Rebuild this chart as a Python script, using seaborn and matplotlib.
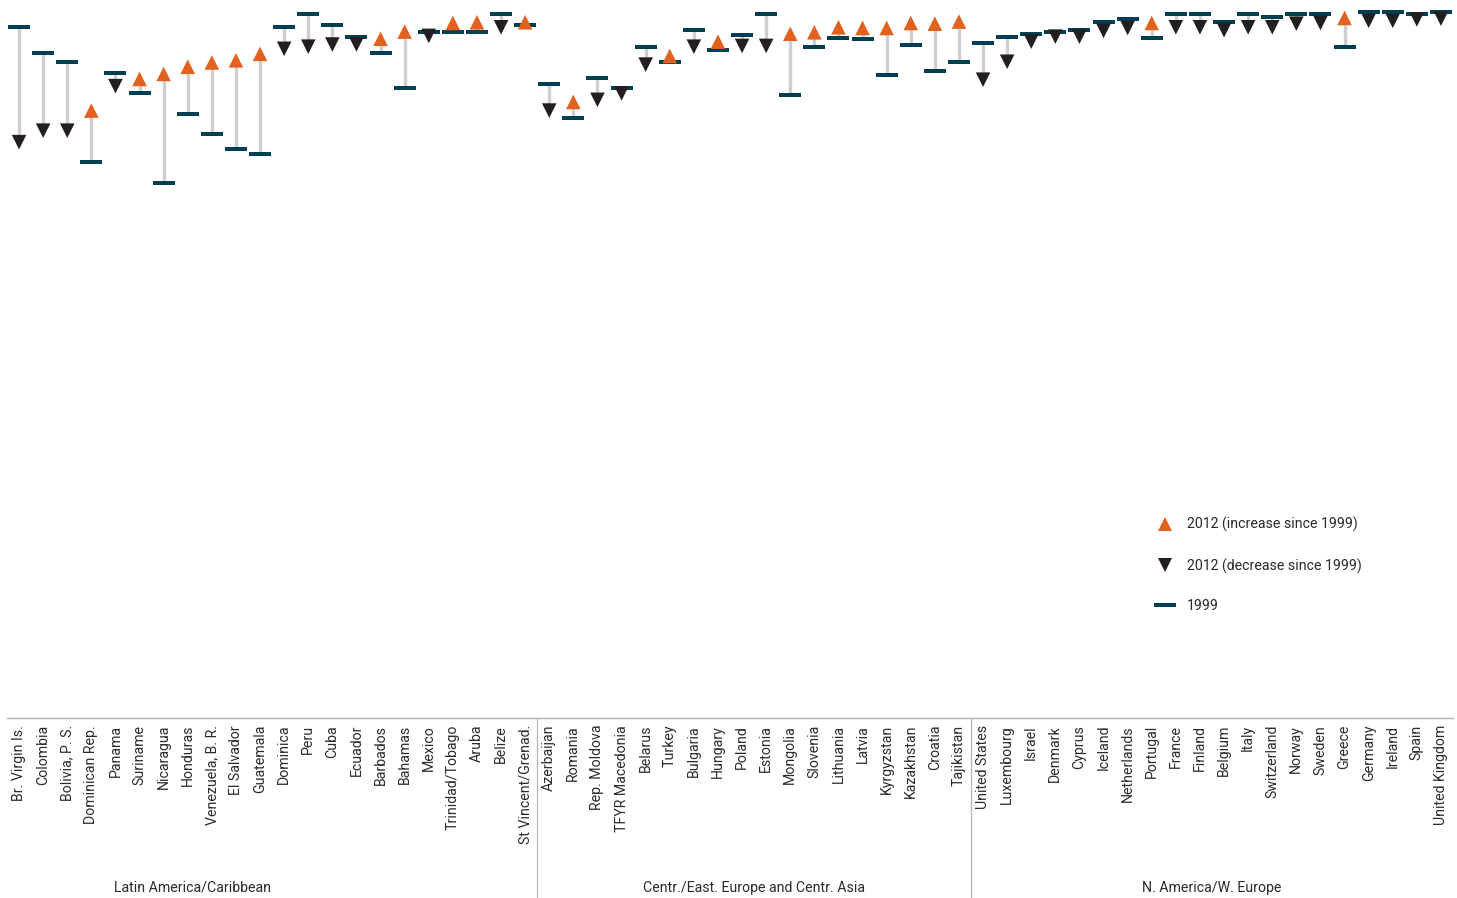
import numpy as np
import pandas as pd
import matplotlib
matplotlib.use("Agg")
import matplotlib.pyplot as plt
import matplotlib.transforms as mtransforms
from matplotlib.lines import Line2D
import seaborn as sns

# ---------------- data ----------------
groups = ["Latin America/Caribbean", "Centr./East. Europe and Centr. Asia", "N. America/W. Europe"]
group_sizes = [22, 18, 20]

countries = [
    "Br. Virgin Is.", "Colombia", "Bolivia, P. S.", "Dominican Rep.", "Panama", "Suriname",
    "Nicaragua", "Honduras", "Venezuela, B. R.", "El Salvador", "Guatemala", "Dominica",
    "Peru", "Cuba", "Ecuador", "Barbados", "Bahamas", "Mexico", "Trinidad/Tobago", "Aruba",
    "Belize", "St Vincent/Grenad.",
    "Azerbaijan", "Romania", "Rep. Moldova", "TFYR Macedonia", "Belarus", "Turkey", "Bulgaria",
    "Hungary", "Poland", "Estonia", "Mongolia", "Slovenia", "Lithuania", "Latvia", "Kyrgyzstan",
    "Kazakhstan", "Croatia", "Tajikistan",
    "United States", "Luxembourg", "Israel", "Denmark", "Cyprus", "Iceland", "Netherlands",
    "Portugal", "France", "Finland", "Belgium", "Italy", "Switzerland", "Norway", "Sweden",
    "Greece", "Germany", "Ireland", "Spain", "United Kingdom",
]

values_1999 = [
    96.2, 92.6, 91.3, 77.4, 89.8, 87.1, 74.5, 84.1, 81.4, 79.2, 78.6, 96.2,
    98.0, 96.5, 94.9, 92.6, 87.7, 95.5, 95.5, 95.6, 98.0, 96.5,
    88.3, 83.5, 89.2, 87.7, 93.4, 91.3, 95.8, 93.1, 95.1, 98.1, 86.7, 93.4,
    94.7, 94.5, 89.5, 93.7, 90.1, 91.3,
    94.0, 94.9, 95.2, 95.5, 95.8, 97.0, 97.3, 94.7, 98.0, 98.0, 97.0, 98.0,
    97.6, 98.0, 98.0, 93.4, 98.3, 98.3, 98.0, 98.3,
]

values_2012 = [
    80.2, 81.8, 81.8, 84.6, 88.0, 89.0, 89.7, 90.7, 91.3, 91.6, 92.5, 93.2,
    93.5, 93.8, 93.8, 94.6, 95.6, 95.0, 96.8, 96.9, 96.2, 96.9,
    84.6, 85.8, 86.1, 87.0, 91.0, 92.2, 93.5, 94.2, 93.6, 93.6, 95.3, 95.5,
    96.2, 96.1, 96.1, 96.8, 96.7, 97.0,
    88.9, 91.4, 94.2, 94.9, 94.9, 95.7, 96.1, 96.8, 96.2, 96.2, 95.8, 96.2,
    96.2, 96.7, 96.8, 97.5, 97.1, 97.1, 97.3, 97.4,
]

legend_labels = ["2012 (increase since 1999)", "2012 (decrease since 1999)", "1999"]

# ---------------- styling ----------------
ORANGE = "#E3611F"
DARK = "#231F20"
TEAL = "#003F51"
GREY_LINE = "#CFCFCF"
AXIS_GREY = "#B4B4B4"
TEXT = "#2B2B2B"
FS = 10.2

sns.set_theme(style="white")
plt.rcParams["font.family"] = ["Roboto", "DejaVu Sans"]

df = pd.DataFrame({
    "country": countries,
    "pos": np.arange(len(countries)),
    "v1999": values_1999,
    "v2012": values_2012,
})
df["change"] = np.where(df["v2012"] > df["v1999"], "increase", "decrease")

W, H = 1457, 898
fig = plt.figure(figsize=(W / 100, H / 100), dpi=100)
ax = fig.add_axes([7 / W, 180 / H, 1446 / W, 718 / H])

# connecting lines
ax.vlines(df["pos"], df["v1999"], df["v2012"], color=GREY_LINE, lw=2.4, zorder=1)

# 1999 dashes
dash = [(-1.0, -0.21), (1.0, -0.21), (1.0, 0.21), (-1.0, 0.21)]
sns.scatterplot(data=df, x="pos", y="v1999", marker=dash, s=16 ** 2, color=TEAL,
                linewidth=0, ax=ax, zorder=2, legend=False)

# 2012 triangles
sns.scatterplot(data=df, x="pos", y="v2012", hue="change", style="change",
                markers={"increase": "^", "decrease": "v"},
                palette={"increase": ORANGE, "decrease": DARK},
                s=10.5 ** 2, linewidth=0, ax=ax, zorder=3, legend=False)

ax.set_xlim(-0.5, len(countries) - 0.5)
ax.set_ylim(0, 100)
ax.set_xlabel("")
ax.set_ylabel("")
ax.set_yticks([])
for side in ["top", "left", "right"]:
    ax.spines[side].set_visible(False)
ax.spines["bottom"].set_color(AXIS_GREY)
ax.spines["bottom"].set_linewidth(1.0)

ax.set_xticks(df["pos"], labels=countries, rotation=90, ha="center", va="top",
              fontsize=FS, color=TEXT)
ax.set_xticks(np.arange(-0.5, len(countries) - 0.5, 1.0), minor=True)
ax.tick_params(axis="x", which="major", length=0, pad=5)
ax.tick_params(axis="x", which="minor", length=102, width=0.9, color=AXIS_GREY,
               direction="out")

# group separators and group labels
trans = mtransforms.blended_transform_factory(ax.transData, ax.transAxes)
bounds = np.cumsum(group_sizes)
for b in bounds[:-1]:
    ax.plot([b - 0.5, b - 0.5], [0, -180 / 718], transform=trans, color=AXIS_GREY,
            lw=0.9, clip_on=False)
starts = np.concatenate([[0], bounds[:-1]])
label_shift = [-3.3, 0.0, 0.0]
for g, s0, n, sh in zip(groups, starts, group_sizes, label_shift):
    ax.text(s0 + (n - 1) / 2 + sh, -170 / 718, g, transform=trans, ha="center",
            va="center", fontsize=FS, color=TEXT)

# legend
handles = [
    Line2D([], [], marker="^", linestyle="none", color=ORANGE, markersize=10.5, markeredgewidth=0),
    Line2D([], [], marker="v", linestyle="none", color=DARK, markersize=10.5, markeredgewidth=0),
    Line2D([], [], marker=dash, linestyle="none", color=TEAL, markersize=16, markeredgewidth=0),
]
leg = fig.legend(handles, legend_labels, loc="upper left",
                 bbox_to_anchor=(1148 / W, 1 - 510 / H), frameon=False,
                 fontsize=FS, labelspacing=1.82, handlelength=1.4, handletextpad=0.85,
                 borderpad=0)
for t in leg.get_texts():
    t.set_color(TEXT)

fig.savefig("out.png", dpi=100)
